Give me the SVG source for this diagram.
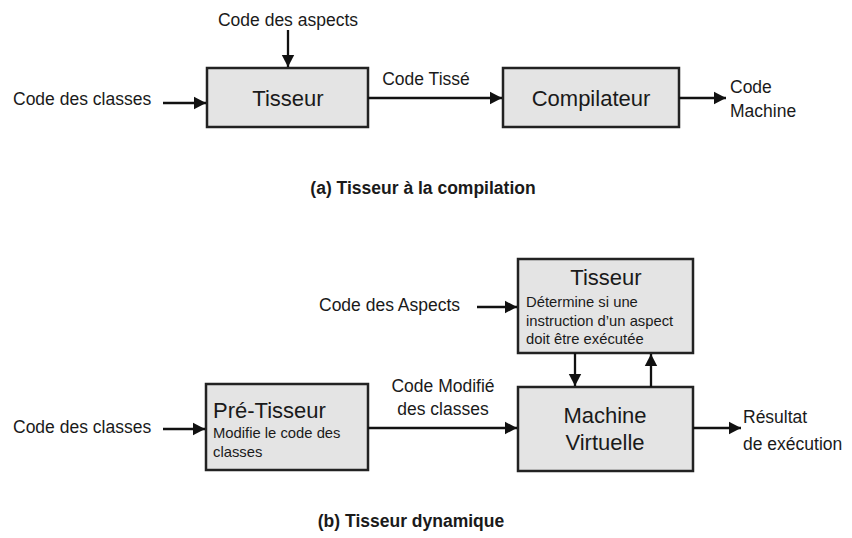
<svg xmlns="http://www.w3.org/2000/svg" width="852" height="538" viewBox="0 0 852 538">
<style>
  text { font-family: "Liberation Sans", Arial, sans-serif; fill: #1a1a1a; }
  .box { fill: #e4e4e4; stroke: #222; stroke-width: 2.5; }
  .big { font-size: 22px; }
  .mid { font-size: 17.5px; }
  .small { font-size: 14.8px; }
  .cap { font-size: 17.5px; font-weight: bold; }
  .c { text-anchor: middle; }
  .conn line { stroke: #111; stroke-width: 2.3; marker-end: url(#arr); }
</style>
<defs>
  <marker id="arr" markerUnits="userSpaceOnUse" markerWidth="14" markerHeight="14" refX="12" refY="7" orient="auto">
    <path d="M0,0.8 L12,7 L0,13.2 z" fill="#111"/>
  </marker>
</defs>
<rect width="852" height="538" fill="#fff"/>

<!-- (a) -->
<g id="tisseur-a">
  <rect class="box" x="207" y="68" width="161" height="59"/>
  <text class="big c" x="288" y="106">Tisseur</text>
</g>
<g id="compilateur">
  <rect class="box" x="503" y="68" width="176" height="59"/>
  <text class="big c" x="591" y="106">Compilateur</text>
</g>
<g id="labels-a">
  <text class="mid c" x="288" y="26">Code des aspects</text>
  <text class="mid" x="13" y="105">Code des classes</text>
  <text class="mid c" x="426" y="85">Code Tissé</text>
  <text class="mid" x="730" y="93">Code</text>
  <text class="mid" x="730" y="117">Machine</text>
  <text class="cap c" x="423" y="194">(a) Tisseur à la compilation</text>
</g>

<!-- (b) -->
<g id="tisseur-b">
  <rect class="box" x="518" y="259" width="175" height="94"/>
  <text class="big c" x="606" y="285">Tisseur</text>
  <text class="small" x="526" y="307">Détermine si une</text>
  <text class="small" x="526" y="326">instruction d’un aspect</text>
  <text class="small" x="526" y="344">doit être exécutée</text>
</g>
<g id="machine">
  <rect class="box" x="518" y="387" width="175" height="84"/>
  <text class="big c" x="605" y="423">Machine</text>
  <text class="big c" x="605" y="450">Virtuelle</text>
</g>
<g id="pretisseur">
  <rect class="box" x="206" y="384" width="162" height="86"/>
  <text class="big" x="213" y="418">Pré-Tisseur</text>
  <text class="small" x="213" y="438">Modifie le code des</text>
  <text class="small" x="213" y="457">classes</text>
</g>
<g id="labels-b">
  <text class="mid" x="319" y="311">Code des Aspects</text>
  <text class="mid" x="13" y="433">Code des classes</text>
  <text class="mid c" x="443" y="392">Code Modifié</text>
  <text class="mid c" x="443" y="415">des classes</text>
  <text class="mid" x="743" y="423">Résultat</text>
  <text class="mid" x="743" y="450">de exécution</text>
  <text class="cap c" x="411" y="527">(b) Tisseur dynamique</text>
</g>

<g id="connectors" class="conn">
  <line x1="288" y1="30" x2="288" y2="67"/>
  <line x1="163" y1="103" x2="206" y2="103"/>
  <line x1="368" y1="98" x2="502" y2="98"/>
  <line x1="679" y1="98" x2="726" y2="98"/>
  <line x1="477" y1="307" x2="517" y2="307"/>
  <line x1="163" y1="429" x2="205" y2="429"/>
  <line x1="368" y1="428" x2="517" y2="428"/>
  <line x1="575" y1="353" x2="575" y2="386"/>
  <line x1="651" y1="387" x2="651" y2="354"/>
  <line x1="693" y1="428" x2="741" y2="428"/>
</g>
</svg>
